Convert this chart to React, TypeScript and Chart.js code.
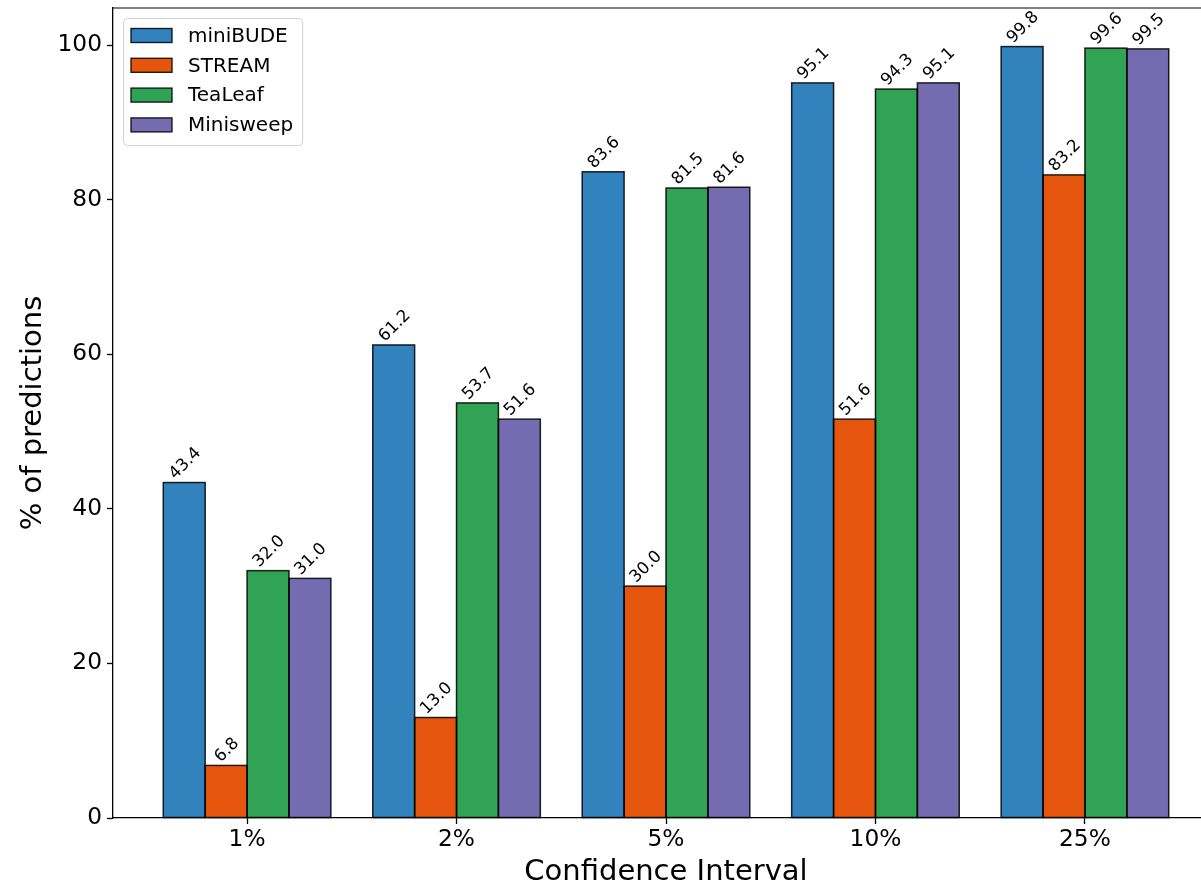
import React, { useEffect, useRef } from 'react';
import { Chart, registerables } from 'chart.js';

Chart.register(...registerables);

const categories = ['1%', '2%', '5%', '10%', '25%'];
const seriesNames = ['miniBUDE', 'STREAM', 'TeaLeaf', 'Minisweep'];
const miniBUDE = [43.4, 61.2, 83.6, 95.1, 99.8];
const stream = [6.8, 13.0, 30.0, 51.6, 83.2];
const teaLeaf = [32.0, 53.7, 81.5, 94.3, 99.6];
const minisweep = [31.0, 51.6, 81.6, 95.1, 99.5];
const yTicks = [0, 20, 40, 60, 80, 100];

const seriesValues = [miniBUDE, stream, teaLeaf, minisweep];
const colors = ['#3182bd', '#e6550d', '#31a354', '#756bb1'];

const FONT = '"DejaVu Sans", "Liberation Sans", sans-serif';
const CANVAS_W = 1240;
const CANVAS_H = 887;

const framePlugin = {
  id: 'frameTopRight',
  afterDraw(chart: any) {
    const { ctx, chartArea: a } = chart;
    ctx.save();
    ctx.strokeStyle = '#000';
    ctx.lineWidth = 1.2;
    ctx.beginPath();
    ctx.moveTo(a.left, a.top);
    ctx.lineTo(a.right, a.top);
    ctx.lineTo(a.right, a.bottom);
    ctx.stroke();
    ctx.restore();
  },
};

// outlines centred on the bar edges (like matplotlib's edgecolor)
const barEdgePlugin = {
  id: 'barEdges',
  afterDatasetsDraw(chart: any) {
    const ctx = chart.ctx;
    ctx.save();
    ctx.strokeStyle = 'rgba(0,0,0,0.85)';
    ctx.lineWidth = 1.5;
    chart.data.datasets.forEach((_: any, di: number) => {
      const meta = chart.getDatasetMeta(di);
      meta.data.forEach((bar: any) => {
        const p = bar.getProps(['x', 'y', 'base', 'width'], true);
        ctx.strokeRect(p.x - p.width / 2, p.y, p.width, p.base - p.y);
      });
    });
    ctx.restore();
  },
};

const valueLabelPlugin = {
  id: 'valueLabels',
  afterDatasetsDraw(chart: any) {
    const ctx = chart.ctx;
    const fs = 16.7;
    ctx.save();
    ctx.font = `${fs}px ${FONT}`;
    ctx.fillStyle = '#000';
    ctx.textAlign = 'center';
    ctx.textBaseline = 'alphabetic';
    chart.data.datasets.forEach((ds: any, di: number) => {
      const meta = chart.getDatasetMeta(di);
      meta.data.forEach((bar: any, i: number) => {
        const v = ds.data[i].y;
        const txt = v.toFixed(1);
        const w = ctx.measureText(txt).width;
        const h = fs * 1.164;
        const side = (w + h) * Math.SQRT1_2;
        ctx.save();
        ctx.translate(bar.x, bar.y - side / 2);
        ctx.rotate(-Math.PI / 4);
        ctx.fillText(txt, 0, fs * 0.346);
        ctx.restore();
      });
    });
    ctx.restore();
  },
};

const legendPlugin = {
  id: 'innerLegend',
  afterDraw(chart: any) {
    const ctx = chart.ctx;
    const a = chart.chartArea;
    const fs = 20;
    const x0 = a.left + 10;
    const y0 = a.top + 10;
    ctx.save();
    ctx.font = `${fs}px ${FONT}`;
    const names: string[] = chart.data.datasets.map((d: any) => d.label);
    const maxW = Math.max(...names.map((n) => ctx.measureText(n).width));
    const textX = x0 + 65;
    const w = textX + maxW + 9 - x0;
    const h = 127;
    ctx.beginPath();
    ctx.roundRect(x0 + 0.5, y0 + 0.5, w, h, 4);
    ctx.fillStyle = 'rgba(255,255,255,0.8)';
    ctx.fill();
    ctx.strokeStyle = 'rgba(204,204,204,0.9)';
    ctx.lineWidth = 1;
    ctx.stroke();
    names.forEach((n, i) => {
      const cy = y0 + 17.5 + i * 29.8;
      ctx.fillStyle = chart.data.datasets[i].backgroundColor;
      ctx.fillRect(x0 + 8, cy - 7, 41, 14);
      ctx.strokeStyle = 'rgba(0,0,0,0.85)';
      ctx.lineWidth = 1.4;
      ctx.strokeRect(x0 + 8, cy - 7, 41, 14);
      ctx.fillStyle = '#000';
      ctx.textAlign = 'left';
      ctx.textBaseline = 'middle';
      ctx.fillText(n, textX, cy + 1);
    });
    ctx.restore();
  },
};

export default function App() {
  const canvasRef = useRef<HTMLCanvasElement | null>(null);

  useEffect(() => {
    const canvas = canvasRef.current;
    if (!canvas) return;
    const gridOpts = {
      display: true,
      offset: false,
      drawOnChartArea: false,
      drawTicks: true,
      tickLength: 6,
      tickColor: '#000',
      tickWidth: 1.3,
    };
    const chart = new Chart(canvas, {
      type: 'bar',
      data: {
        datasets: seriesNames.map((name, s) => ({
          label: name,
          data: seriesValues[s].map((v, i) => ({ x: i, y: v })),
          backgroundColor: colors[s],
          borderWidth: 0,
          categoryPercentage: 0.8,
          barPercentage: 1.0,
          inflateAmount: 0,
        })),
      } as any,
      options: {
        animation: false,
        responsive: false,
        devicePixelRatio: 1,
        layout: { padding: { left: 0, top: 8, right: CANVAS_W - 1219, bottom: 0 } },
        plugins: {
          legend: { display: false },
          tooltip: { enabled: false },
        },
        scales: {
          x: {
            type: 'linear',
            min: -0.64,
            max: 4.64,
            offset: false,
            grid: gridOpts,
            border: { display: true, color: '#000', width: 1.3, z: 1 },
            ticks: {
              font: { family: FONT, size: 23.3 },
              color: '#000',
              padding: 2,
              autoSkip: false,
              maxRotation: 0,
              callback: (v: any) => categories[Math.round(Number(v))] ?? '',
            },
            afterBuildTicks: (axis: any) => {
              axis.ticks = categories.map((_, i) => ({ value: i }));
            },
            afterFit: (axis: any) => {
              axis.height = 69;
              axis.paddingLeft = 0;
              axis.paddingRight = 0;
            },
            title: {
              display: true,
              text: 'Confidence Interval',
              color: '#000',
              font: { family: FONT, size: 29, lineHeight: 1 },
              padding: { top: 0, bottom: 0 },
            },
          },
          y: {
            type: 'linear',
            min: 0,
            max: 104.79,
            grid: gridOpts,
            border: { display: true, color: '#000', width: 1.3 },
            ticks: {
              font: { family: FONT, size: 23.3 },
              color: '#000',
              padding: 5,
            },
            afterBuildTicks: (axis: any) => {
              axis.ticks = yTicks.map((v) => ({ value: v }));
            },
            afterFit: (axis: any) => {
              axis.width = 113;
              axis.paddingTop = 0;
              axis.paddingBottom = 0;
            },
            title: {
              display: true,
              text: '% of predictions',
              color: '#000',
              font: { family: FONT, size: 29, lineHeight: 1 },
              padding: { top: 18.5, bottom: 0 },
            },
          },
        },
      } as any,
      plugins: [barEdgePlugin, valueLabelPlugin, framePlugin, legendPlugin],
    });
    return () => chart.destroy();
  }, []);

  return (
    <div
      style={{
        position: 'fixed',
        left: 0,
        top: 0,
        width: 1201,
        height: 887,
        overflow: 'hidden',
        background: '#fff',
      }}
    >
      <canvas
        ref={canvasRef}
        width={CANVAS_W}
        height={CANVAS_H}
        style={{ display: 'block', width: CANVAS_W, height: CANVAS_H }}
      />
    </div>
  );
}
